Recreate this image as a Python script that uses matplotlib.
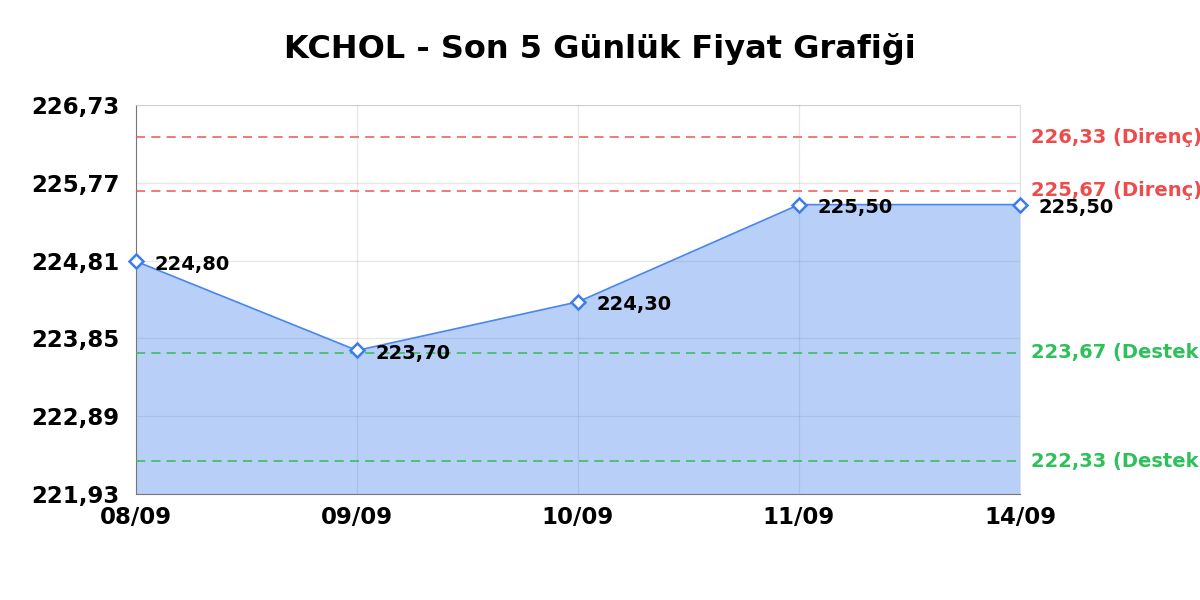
import matplotlib
matplotlib.use('Agg')
import matplotlib.pyplot as plt
import numpy as np

dates = ['08/09', '09/09', '10/09', '11/09', '14/09']
prices = [224.80, 223.70, 224.30, 225.50, 225.50]
resistance = [226.33, 225.67]
support = [223.67, 222.33]
yticks = [221.93, 222.89, 223.85, 224.81, 225.77, 226.73]

def tr(v):
    return f'{v:.2f}'.replace('.', ',')

fig = plt.figure(figsize=(12, 6), dpi=100)
ax = fig.add_axes([0.1133, 0.177, 0.7367, 0.648])

x = np.arange(len(dates))
ax.fill_between(x, prices, yticks[0], color='#b8d0f8', zorder=1)
ax.plot(x, prices, color='#4a86ee', lw=1.2, marker='D', ms=7,
        mfc='white', mec='#3b7ded', mew=1.8, zorder=4, clip_on=False)

for xi, p in zip(x, prices):
    ax.annotate(tr(p), (xi, p), xytext=(13, -2), textcoords='offset points',
                ha='left', va='center', fontsize=14, fontweight='bold',
                color='black', zorder=5, annotation_clip=False)

for r in resistance:
    ax.axhline(r, color='#ee5555', ls=(0, (6, 4)), lw=1.1, zorder=3)
    ax.text(1.013, r, f'{tr(r)} (Direnç)', transform=ax.get_yaxis_transform(),
            color='#ee4c4c', fontsize=14, fontweight='bold', va='center', ha='left',
            clip_on=False)
for s in support:
    ax.axhline(s, color='#33bb55', ls=(0, (6, 4)), lw=1.1, zorder=3)
    ax.text(1.013, s, f'{tr(s)} (Destek)', transform=ax.get_yaxis_transform(),
            color='#2ec05a', fontsize=14, fontweight='bold', va='center', ha='left',
            clip_on=False)

ax.set_xlim(0, len(dates) - 1)
ax.set_ylim(yticks[0], yticks[-1])
ax.set_xticks(x)
ax.set_xticklabels(dates, fontsize=16.5, fontweight='bold')
ax.set_yticks(yticks)
ax.set_yticklabels([tr(v) for v in yticks], fontsize=16.5, fontweight='bold')
ax.tick_params(axis='y', length=0, pad=12)
ax.tick_params(axis='x', length=0, pad=9)
ax.grid(True, color='#7a7a7a', alpha=0.18, lw=0.9, zorder=2)
ax.set_axisbelow(False)
for side in ['top', 'right']:
    ax.spines[side].set_color('#e2e2e2')
for side in ['left', 'bottom']:
    ax.spines[side].set_color('#777777')

fig.text(0.5, 0.918, 'KCHOL - Son 5 Günlük Fiyat Grafiği', ha='center', va='center',
         fontsize=23, fontweight='bold')

fig.savefig('out.png', dpi=100)
